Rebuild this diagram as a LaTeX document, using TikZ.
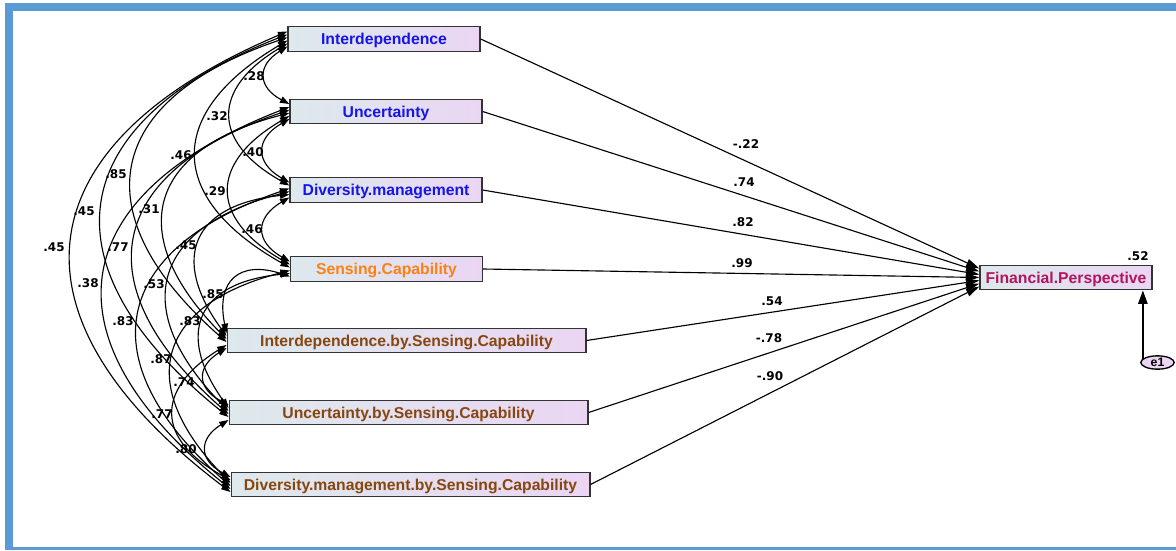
\documentclass[tikz,border=0pt]{standalone}
\usepackage{fontspec}
\setmainfont{Liberation Sans}
\newfontfamily\numfont{DejaVu Sans}
\usetikzlibrary{arrows.meta,shapes.geometric}

\definecolor{frameblue}{RGB}{91,155,213}
\definecolor{boxleft}{RGB}{221,233,236}
\definecolor{boxright}{RGB}{234,214,243}
\definecolor{exoblue}{RGB}{20,20,235}
\definecolor{senseorange}{RGB}{250,130,20}
\definecolor{intbrown}{RGB}{135,70,15}
\definecolor{finred}{RGB}{180,20,95}

\tikzset{
  var/.style={draw=black!80, line width=1pt, left color=boxleft, right color=boxright,
    minimum height=18.4pt, inner sep=0pt, text height=8.4pt, text depth=0pt,
    font=\fontsize{11.8}{13}\selectfont\bfseries},
  coef/.style={inner sep=0pt, font=\numfont\fontsize{9}{10}\selectfont\bfseries},
  cov/.style={line width=0.85pt, {Triangle[length=7pt,width=5pt]}-{Triangle[length=7pt,width=5pt]}},
  reg/.style={line width=0.85pt, -{Triangle[length=10pt,width=6pt]}}
}

\begin{document}
\begin{tikzpicture}[x=0.75pt,y=-0.75pt]
  \useasboundingbox (0,0) rectangle (1176,550);
  \fill[white] (0,0) rectangle (1176,550);
  % frame
  \fill[frameblue] (5,3) rectangle (13,550);
  \fill[frameblue] (5,3) rectangle (1176,11);
  \fill[frameblue] (5,547) rectangle (1176,550);

  % observed variables
  \node[var, text=exoblue, minimum width=144pt] (v1) at (384,39) {Interdependence};
  \node[var, text=exoblue, minimum width=144pt] (v2) at (386,111.5) {Uncertainty};
  \node[var, text=exoblue, minimum width=144pt] (v3) at (386,190) {Diversity.management};
  \node[var, text=senseorange, minimum width=144pt] (v4) at (386.5,269) {Sensing.Capability};
  \node[var, text=intbrown, minimum width=269pt] (v5) at (406.5,340.5) {Interdependence.by.Sensing.Capability};
  \node[var, text=intbrown, minimum width=269pt] (v6) at (408.5,412.5) {Uncertainty.by.Sensing.Capability};
  \node[var, text=intbrown, minimum width=269pt] (v7) at (410.5,484.5) {Diversity.management.by.Sensing.Capability};
  \node[var, text=finred, minimum width=129pt] (fin) at (1066,277.5) {Financial.Perspective};
  \node[draw, ellipse, fill=boxright, line width=1pt, minimum width=25pt, minimum height=10pt,
    inner xsep=0pt, inner ysep=-1pt, text height=6.6pt, text depth=0pt,
    font=\fontsize{9.2}{10}\selectfont\bfseries] (e1) at (1157.5,362.5) {e1};

  % regression paths
  \foreach \i in {1,...,7}
    \draw[reg] (v\i.east) -- ([yshift={(4-\i)*2.25pt}]fin.west);
  \draw[line width=1pt, -{Triangle[length=10pt,width=7pt]}] (e1.165) -- (e1.165 |- fin.south);

  % covariances
  \foreach \i in {1,...,6} {
    \pgfmathtruncatemacro\k{\i+1}
    \foreach \j in {\k,...,7}
      \draw[cov] ([yshift={(\j-\i-3.5)*2.25pt}]v\i.west) to[bend right=60, looseness=1.6]
        ([yshift={(3.5-\j+\i)*2.25pt}]v\j.west);
  }

  % estimates
  \foreach \x/\y/\v [count=\n] in {746/144/-.22, 744/182/.74, 743/222/.82, 742/263/.99,
      772/301/.54, 769/338/-.78, 770/376/-.90, 1138/256/.52}
    \node[coef] (p\n) at (\x,\y) {\v};
  \foreach \x/\y/\v [count=\n] in {254/76/.28, 217/116/.32, 181/155/.46, 253/152/.40, 116/174/.85,
      215/191/.29, 149/209/.31, 84/211/.45, 252/229/.46, 186/245/.45, 54/247/.45, 118/247/.77,
      88/283/.38, 154/284/.53, 213/294/.85, 123/321/.83, 190/321/.83, 161/359/.87, 184/382/.74,
      162/414/.77, 186/449/.80}
    \node[coef] (c\n) at (\x,\y) {\v};
\end{tikzpicture}
\end{document}
